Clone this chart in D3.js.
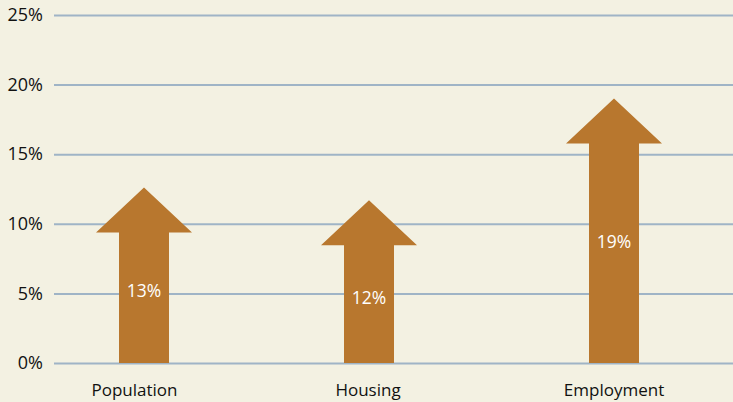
<!DOCTYPE html>
<html>
<head>
<meta charset="utf-8">
<script src="https://cdn.jsdelivr.net/npm/d3@7"></script>
<style>
  body { margin: 0; background: #f3f1e2; }
  svg { display: block; }
</style>
</head>
<body>
<div id="chart"></div>
<script>
const categories = ["Population", "Housing", "Employment"];
const values = [12.6, 11.7, 19.0];
const valueLabels = ["13%", "12%", "19%"];
const yTicks = [0, 5, 10, 15, 20, 25];

const W = 733, H = 402;
const margin = { top: 15, right: 0, bottom: 39, left: 54 };

const svg = d3.select("#chart")
  .append("svg")
    .attr("width", W)
    .attr("height", H)
    .style("background", "#f3f1e2");

// y scale
const y = d3.scaleLinear()
  .domain([0, 25])
  .range([H - margin.bottom, margin.top]);

// arrows are not evenly spaced in the original
const x = d3.scaleOrdinal()
  .domain(categories)
  .range([144, 369, 614]);

const xLabel = d3.scaleOrdinal()
  .domain(categories)
  .range([134.5, 368, 614]);

// gridlines + tick labels
svg.append("g")
  .attr("transform", `translate(${margin.left},0)`)
  .call(d3.axisLeft(y).tickValues(yTicks).tickSize(-(W - margin.left)).tickPadding(11).tickFormat(d => d + "%"))
  .call(g => g.select(".domain").remove())
  .call(g => g.selectAll("line").style("stroke", "#9fb4c6").style("stroke-width", 2))
  .call(g => g.selectAll("text")
    .style("fill", "#111")
    .style("font-family", "'Open Sans', sans-serif")
    .style("font-size", "18px"));

const headH = 45, headHalf = 48, shaftHalf = 25;

const rows = categories.map((c, i) => ({ cat: c, v: values[i], label: valueLabels[i] }));

// arrows
svg.selectAll("path.arrow")
  .data(rows)
  .enter()
  .append("path")
    .attr("class", "arrow")
    .attr("fill", "#b8772e")
    .attr("d", d => {
      const cx = x(d.cat), top = y(d.v), base = top + headH, bottom = y(0);
      return `M${cx},${top} L${cx + headHalf},${base} L${cx + shaftHalf},${base} L${cx + shaftHalf},${bottom}
              L${cx - shaftHalf},${bottom} L${cx - shaftHalf},${base} L${cx - headHalf},${base} Z`;
    });

// value labels inside the shafts
svg.selectAll("text.val")
  .data(rows)
  .enter()
  .append("text")
    .attr("class", "val")
    .attr("x", d => x(d.cat))
    .attr("y", d => y(0) - 0.55 * (y(0) - y(d.v) - headH))
    .attr("dy", "0.35em")
    .attr("text-anchor", "middle")
    .attr("font-family", "'Open Sans', sans-serif")
    .attr("font-size", "17.5px")
    .attr("fill", "#ffffff")
    .text(d => d.label);

// category labels
svg.selectAll("text.cat")
  .data(categories)
  .enter()
  .append("text")
    .attr("class", "cat")
    .attr("x", d => xLabel(d))
    .attr("y", 396)
    .attr("text-anchor", "middle")
    .attr("font-family", "'Open Sans', sans-serif")
    .attr("font-size", "17px")
    .attr("fill", "#111")
    .text(d => d);
</script>
</body>
</html>
